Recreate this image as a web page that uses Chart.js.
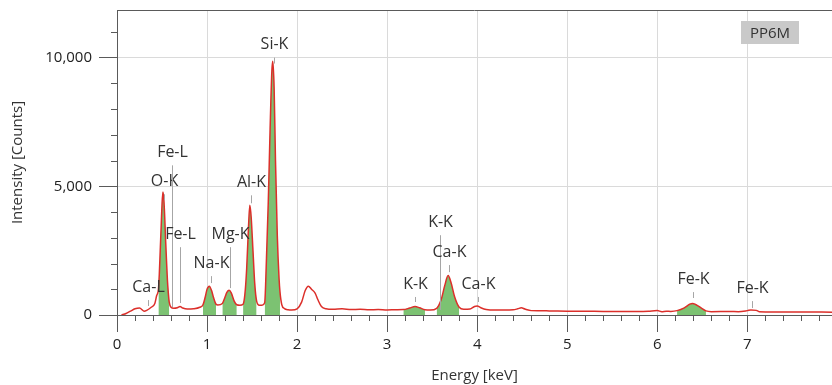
<!DOCTYPE html>
<html>
<head>
<meta charset="utf-8">
<script src="https://cdn.jsdelivr.net/npm/chart.js@4"></script>
<style>
  html, body { margin: 0; padding: 0; background: #fff; }
  #wrap { width: 832px; height: 385px; }
</style>
</head>
<body>
<div id="wrap"><canvas id="spectrum"></canvas></div>
<script>
// spectrum (energy in keV, intensity in counts)
const energy = [
  0.05, 0.10, 0.15, 0.20, 0.25, 0.30, 0.33, 0.38, 0.42, 0.44,
  0.46, 0.47, 0.48, 0.49, 0.50, 0.51, 0.52, 0.53, 0.54, 0.55,
  0.56, 0.57, 0.58, 0.60, 0.63, 0.67, 0.70, 0.73, 0.78, 0.85,
  0.92, 0.955, 0.98, 1.00, 1.025, 1.05, 1.07, 1.10, 1.12, 1.17,
  1.20, 1.22, 1.245, 1.27, 1.30, 1.33, 1.365, 1.40, 1.42, 1.44,
  1.46, 1.475, 1.49, 1.51, 1.53, 1.55, 1.58, 1.61, 1.64, 1.66,
  1.68, 1.70, 1.72, 1.73, 1.745, 1.76, 1.78, 1.80, 1.81, 1.83,
  1.86, 1.90, 1.94, 2.00, 2.05, 2.09, 2.125, 2.16, 2.20, 2.23,
  2.27, 2.32, 2.40, 2.50, 2.60, 2.70, 2.80, 2.90, 3.00, 3.10,
  3.18, 3.25, 3.31, 3.36, 3.42, 3.48, 3.55, 3.60, 3.64, 3.677,
  3.71, 3.75, 3.80, 3.85, 3.92, 3.97, 4.00, 4.04, 4.10, 4.20,
  4.30, 4.40, 4.45, 4.49, 4.53, 4.60, 4.80, 5.00, 5.20, 5.40,
  5.60, 5.80, 5.90, 6.00, 6.05, 6.10, 6.15, 6.22, 6.30, 6.36,
  6.39, 6.43, 6.49, 6.54, 6.60, 6.80, 6.90, 7.00, 7.04, 7.10,
  7.13, 7.30, 7.60, 7.94
];
const counts = [
  0, 60, 150, 240, 270, 150, 180, 300, 450, 750,
  1000, 1600, 2500, 3400, 4300, 4780, 4500, 3800, 2900, 2100,
  1350, 850, 500, 300, 260, 280, 330, 270, 230, 240,
  300, 400, 700, 1000, 1120, 950, 700, 420, 390, 450,
  700, 880, 960, 850, 550, 400, 380, 420, 800, 1800,
  3400, 4260, 3800, 2500, 1200, 550, 380, 380, 480, 2200,
  4400, 7200, 9500, 9860, 8800, 6000, 3100, 1400, 900, 400,
  250, 200, 190, 240, 500, 950, 1120, 1000, 850, 600,
  330, 240, 220, 240, 210, 225, 200, 215, 195, 205,
  210, 270, 330, 280, 200, 190, 260, 600, 1150, 1530,
  1250, 700, 300, 220, 230, 330, 350, 280, 210, 190,
  190, 200, 240, 280, 230, 170, 160, 150, 150, 140,
  140, 140, 150, 170, 130, 150, 140, 170, 280, 420,
  450, 400, 270, 160, 130, 140, 130, 170, 195, 180,
  130, 120, 120, 110
];

// shaded (fitted) peak windows, keV
const peakRanges = [
  [0.46, 0.58], [0.955, 1.10], [1.17, 1.33], [1.40, 1.55], [1.64, 1.81],
  [3.18, 3.42], [3.55, 3.80], [6.22, 6.54]
];

// line markers
const markerNames = ["Ca-L", "O-K", "Fe-L", "Fe-L", "Na-K", "Mg-K", "Al-K", "Si-K",
  "K-K", "K-K", "Ca-K", "Ca-K", "Fe-K", "Fe-K"];
const markerEnergy = [0.341, 0.525, 0.615, 0.705, 1.041, 1.253, 1.486, 1.739,
  3.312, 3.589, 3.690, 4.012, 6.398, 7.057];
const markerTop = [580, 4690, 5815, 2635, 1510, 2635, 4650, 10000,
  700, 3100, 1940, 700, 890, 540];
const markerBottom = [350, 4460, 310, 465, 1240, 1045, 4340, 9770,
  505, 195, 1665, 505, 660, 270];

const xTicks = [0, 1, 2, 3, 4, 5, 6, 7];
const yTicks = [0, 5000, 10000];
const sampleName = "PP6M";

const axisColor = "#5a5a5a";
const gridColor = "#dadada";
const fontFamily = "'Open Sans', 'Noto Sans', sans-serif";

const spectrumPoints = energy.map((e, i) => ({ x: e, y: counts[i] }));

const buildPeakPoints = () => {
  const pts = [];
  peakRanges.forEach(([a, b], k) => {
    energy.forEach((e, i) => {
      if (e >= a - 1e-9 && e <= b + 1e-9) pts.push({ x: e, y: counts[i] });
    });
    if (k < peakRanges.length - 1) pts.push({ x: (b + peakRanges[k + 1][0]) / 2, y: null });
  });
  return pts;
};

const extrasPlugin = {
  id: "extras",
  beforeDatasetsDraw(chart) {
    const { ctx, chartArea, scales } = chart;
    const xs = scales.x;
    const ys = scales.y;
    ctx.save();
    ctx.strokeStyle = axisColor;
    ctx.lineWidth = 1;
    // minor ticks
    ctx.beginPath();
    for (let v = 0.2; v < xs.max; v += 0.2) {
      if (Math.abs(v - Math.round(v)) < 1e-6) continue;
      const px = Math.round(xs.getPixelForValue(v)) + 0.5;
      ctx.moveTo(px, chartArea.bottom);
      ctx.lineTo(px, chartArea.bottom + 6);
    }
    for (let v = 1000; v < ys.max; v += 1000) {
      if (v % 5000 === 0) continue;
      const py = Math.round(ys.getPixelForValue(v)) + 0.5;
      ctx.moveTo(chartArea.left - 6, py);
      ctx.lineTo(chartArea.left, py);
    }
    // top frame line
    ctx.moveTo(chartArea.left, chartArea.top + 0.5);
    ctx.lineTo(chartArea.right, chartArea.top + 0.5);
    ctx.stroke();
    ctx.restore();
  },
  afterDatasetsDraw(chart) {
    const { ctx, chartArea, scales } = chart;
    const xs = scales.x;
    const ys = scales.y;
    ctx.save();
    ctx.font = "16px " + fontFamily;
    ctx.textAlign = "center";
    ctx.textBaseline = "middle";
    markerNames.forEach((name, i) => {
      const px = Math.round(xs.getPixelForValue(markerEnergy[i])) + 0.5;
      const top = ys.getPixelForValue(markerTop[i]);
      const bot = ys.getPixelForValue(markerBottom[i]);
      ctx.strokeStyle = "#a6a6a6";
      ctx.lineWidth = 1;
      ctx.beginPath();
      ctx.moveTo(px, top);
      ctx.lineTo(px, bot);
      ctx.stroke();
      ctx.fillStyle = "#333";
      ctx.fillText(name, px, top - 13);
    });
    // sample tag
    ctx.font = "15px " + fontFamily;
    const w = 58, h = 23;
    const bx = chartArea.right - 33 - w;
    const by = chartArea.top + 11;
    ctx.fillStyle = "#c9c9c9";
    ctx.fillRect(bx, by, w, h);
    ctx.fillStyle = "#333";
    ctx.fillText(sampleName, bx + w / 2, by + h / 2 + 1);
    ctx.restore();
  }
};

const config = {
  type: "line",
  data: {
    datasets: [
      {
        label: "spectrum",
        data: spectrumPoints,
        borderColor: "#dc2f2a",
        borderWidth: 1.5,
        pointRadius: 0,
        cubicInterpolationMode: "monotone",
        fill: false,
        order: 0
      },
      {
        label: "peaks",
        data: buildPeakPoints(),
        borderWidth: 0,
        borderColor: "rgba(0,0,0,0)",
        backgroundColor: "rgb(124, 194, 114)",
        pointRadius: 0,
        cubicInterpolationMode: "monotone",
        spanGaps: false,
        fill: "origin",
        order: 1
      }
    ]
  },
  options: {
    responsive: true,
    maintainAspectRatio: false,
    animation: false,
    layout: { padding: { top: 10, right: 0, left: 0, bottom: 0 } },
    plugins: {
      legend: { display: false },
      tooltip: { enabled: false }
    },
    scales: {
      x: {
        type: "linear",
        min: 0,
        max: 7.94,
        afterBuildTicks: (scale) => {
          scale.ticks = xTicks.map((v) => ({ value: v }));
        },
        afterFit: (scale) => {
          scale.height = 70;
          scale.paddingLeft = 0;
          scale.paddingRight = 0;
        },
        grid: {
          color: gridColor,
          tickColor: axisColor,
          tickLength: 17,
          lineWidth: 1
        },
        border: { color: axisColor, width: 1 },
        ticks: {
          color: "#222",
          font: { family: fontFamily, size: 15 },
          padding: 4,
          maxRotation: 0
        },
        title: {
          display: true,
          text: "Energy [keV]",
          color: "#333",
          font: { family: fontFamily, size: 15 },
          padding: { top: 0, bottom: 0 }
        }
      },
      y: {
        type: "linear",
        min: 0,
        max: 11850,
        afterBuildTicks: (scale) => {
          scale.ticks = yTicks.map((v) => ({ value: v }));
        },
        afterFit: (scale) => {
          scale.width = 117;
          scale.paddingTop = 0;
          scale.paddingBottom = 0;
        },
        grid: {
          color: gridColor,
          tickColor: axisColor,
          tickLength: 18,
          lineWidth: 1
        },
        border: { color: axisColor, width: 1 },
        ticks: {
          color: "#222",
          font: { family: fontFamily, size: 15 },
          padding: 7,
          callback: (v) => v.toLocaleString("en-US")
        },
        title: {
          display: true,
          text: "Intensity [Counts]",
          color: "#333",
          font: { family: fontFamily, size: 15 },
          padding: { top: 9, bottom: 0 }
        }
      }
    }
  },
  plugins: [extrasPlugin]
};

const spectrumChart = new Chart(document.getElementById("spectrum"), config);
</script>
</body>
</html>
